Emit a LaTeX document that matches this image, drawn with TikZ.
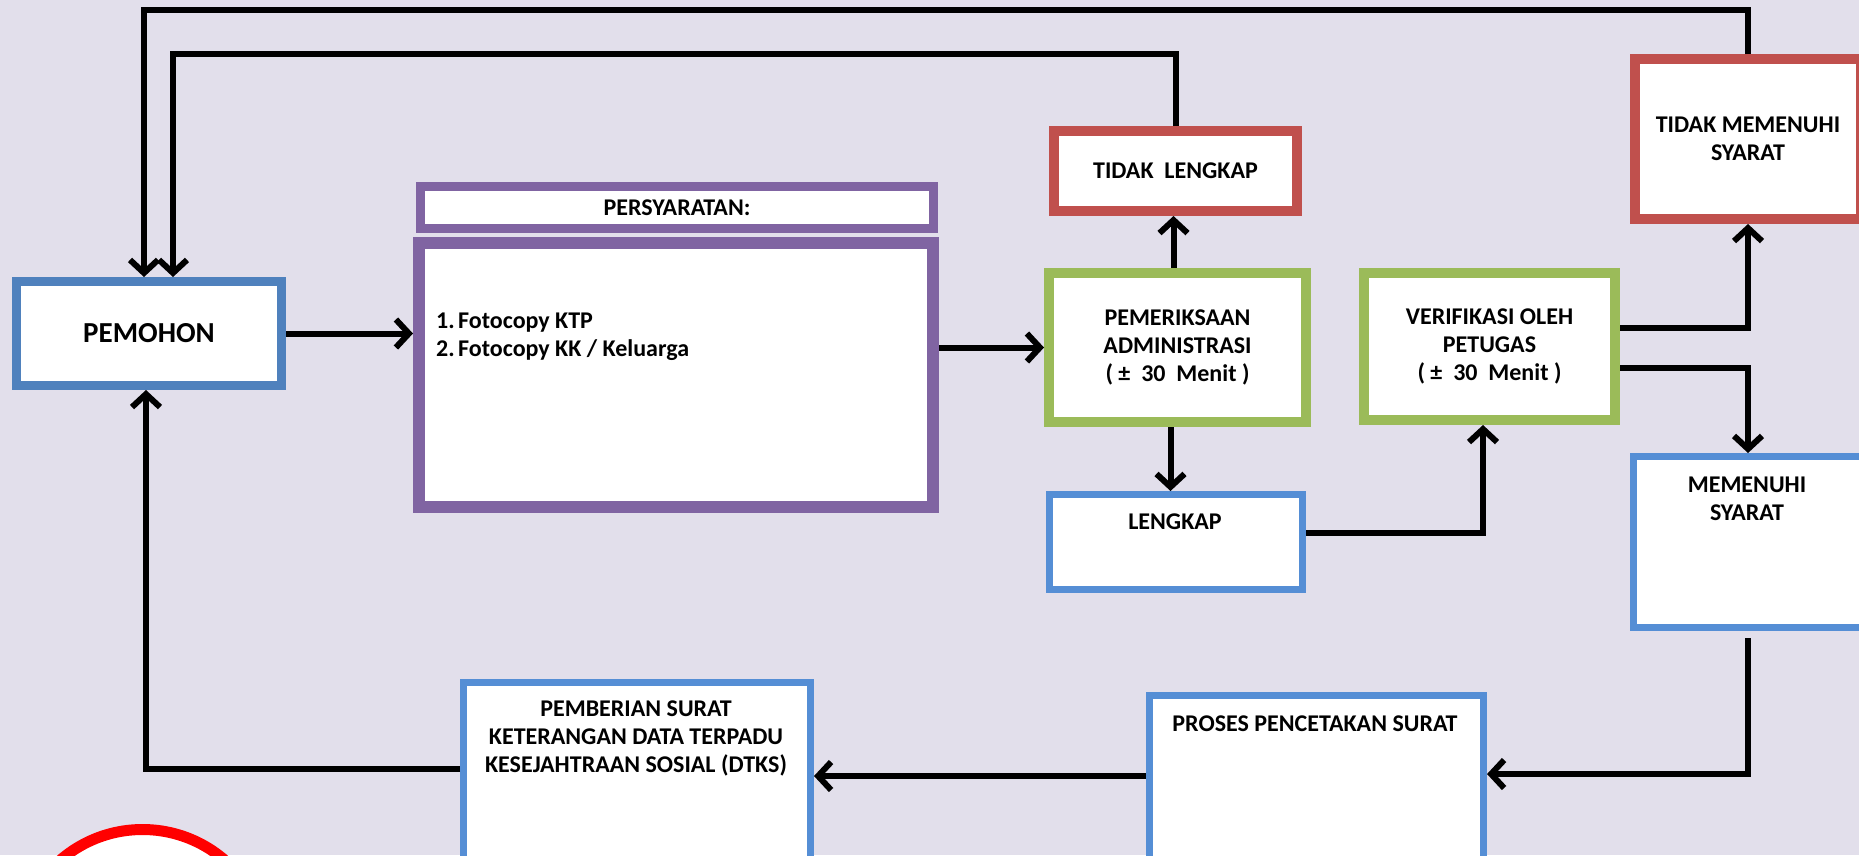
\documentclass[tikz,border=0pt]{standalone}
\usepackage{fontspec}
\setmainfont{Carlito}
\usetikzlibrary{arrows.meta}
\definecolor{bgc}{RGB}{226,223,235}
\definecolor{cblue}{RGB}{79,129,189}
\definecolor{cblue2}{RGB}{85,142,213}
\definecolor{cpurple}{RGB}{128,100,162}
\definecolor{cred}{RGB}{192,80,77}
\definecolor{cgreen}{RGB}{155,187,89}
\newcommand\boxfont{\fontsize{24}{28}\selectfont\bfseries}
\newcommand\bigboxfont{\fontsize{29}{34}\selectfont\bfseries}
\begin{document}
\begin{tikzpicture}[x=1pt,y=-1pt,
  box/.style={draw, fill=white, inner sep=0pt, align=center, font=\boxfont},
  lbl/.style={inner sep=0pt, align=center, font=\boxfont},
  arr/.style={line width=6pt, -{Straight Barb[length=13pt,width=28pt]}}]
\useasboundingbox (0,0) rectangle (1859,855);
\clip (0,0) rectangle (1859,855);
\fill[bgc] (0,0) rectangle (1859,855);

% boxes
\node[box, draw=cblue, line width=9pt, minimum width=265pt, minimum height=104pt, font=\bigboxfont] (pemohon) at (149,333.5) {PEMOHON};
\node[box, draw=cpurple, line width=9pt, minimum width=513pt, minimum height=42pt] (head) at (677,207.5) {PERSYARATAN:};
\node[box, draw=cpurple, line width=12pt, minimum width=514pt, minimum height=264pt] (body) at (676,375) {};
\node[lbl, anchor=base west] (l1) at (436,328) {\makebox[22pt][l]{1.}Fotocopy KTP};
\node[lbl, anchor=base west] (l2) at (436,356) {\makebox[22pt][l]{2.}Fotocopy KK / Keluarga};

\node[box, draw=cred, line width=10pt, minimum width=243pt, minimum height=80pt] (tl) at (1175.5,171) {TIDAK\ \ LENGKAP};
\node[box, draw=cgreen, line width=10pt, minimum width=257pt, minimum height=149pt] (pem) at (1177.5,347.5) {PEMERIKSAAN\\ADMINISTRASI\\(\ ±\ \ 30\ \ Menit\ )};
\node[box, draw=cblue2, line width=7pt, minimum width=253pt, minimum height=95pt] (lengkap) at (1176,542) {};
\node[lbl] (lengkapt) at (1175,522) {LENGKAP};
\node[box, draw=cgreen, line width=10pt, minimum width=251pt, minimum height=147pt] (ver) at (1489.5,346.5) {VERIFIKASI OLEH\\PETUGAS\\(\ ±\ \ 30\ \ Menit\ )};
\node[box, draw=cred, line width=10pt, minimum width=226pt, minimum height=160pt] (tm) at (1748,139) {TIDAK MEMENUHI\\SYARAT};
\node[box, draw=cblue2, line width=7pt, minimum width=229pt, minimum height=171pt] (mem) at (1748,542) {};
\node[lbl] (memt) at (1747,498.5) {MEMENUHI\\SYARAT};
\node[box, draw=cblue2, line width=7pt, minimum width=334pt, minimum height=181pt] (proses) at (1316.5,786) {};
\node[lbl] (prosest) at (1315,724) {PROSES PENCETAKAN SURAT};
\node[box, draw=cblue2, line width=7pt, minimum width=347pt, minimum height=194pt] (pemb) at (637,779.5) {};
\node[lbl] (pembt) at (636,738) {PEMBERIAN SURAT\\KETERANGAN DATA TERPADU\\KESEJAHTRAAN SOSIAL (DTKS)};
\node[circle, draw=red, fill=white, line width=11pt, minimum size=251pt, inner sep=0pt] (stamp) at (142.5,955) {};

% connectors
\coordinate (topin) at (173,54);
\coordinate (topout) at (144,10);
\draw[arr] (pemohon.east) -- (pemohon.east -| body.west);
\draw[arr] (pem.west -| body.east) -- (pem.west);
\draw[arr] ([xshift=-4pt]pem.north) -- ([xshift=-4pt]pem.north |- tl.south);
\draw[arr] ([xshift=-7pt]pem.south) -- ([xshift=-7pt]pem.south |- lengkap.north);
\draw[arr] (tl.north) |- (topin) -- (topin |- pemohon.north);
\draw[arr] (tm.north) |- (topout) -- (topout |- pemohon.north);
\draw[arr] ([yshift=9pt]lengkap.east) -| ([xshift=-6.5pt]ver.south);
\draw[arr] ([yshift=18.5pt]ver.east) -| (tm.south);
\draw[arr] ([yshift=-21.5pt]ver.east) -| (mem.north);
\draw[arr] ([yshift=-7pt]mem.south) |- ([yshift=12pt]proses.east);
\draw[arr] ([yshift=10pt]proses.west) -- ([yshift=10pt]proses.west -| pemb.east);
\draw[arr] ([yshift=11pt]pemb.west) -| ([xshift=-3pt]pemohon.south);
\end{tikzpicture}
\end{document}
